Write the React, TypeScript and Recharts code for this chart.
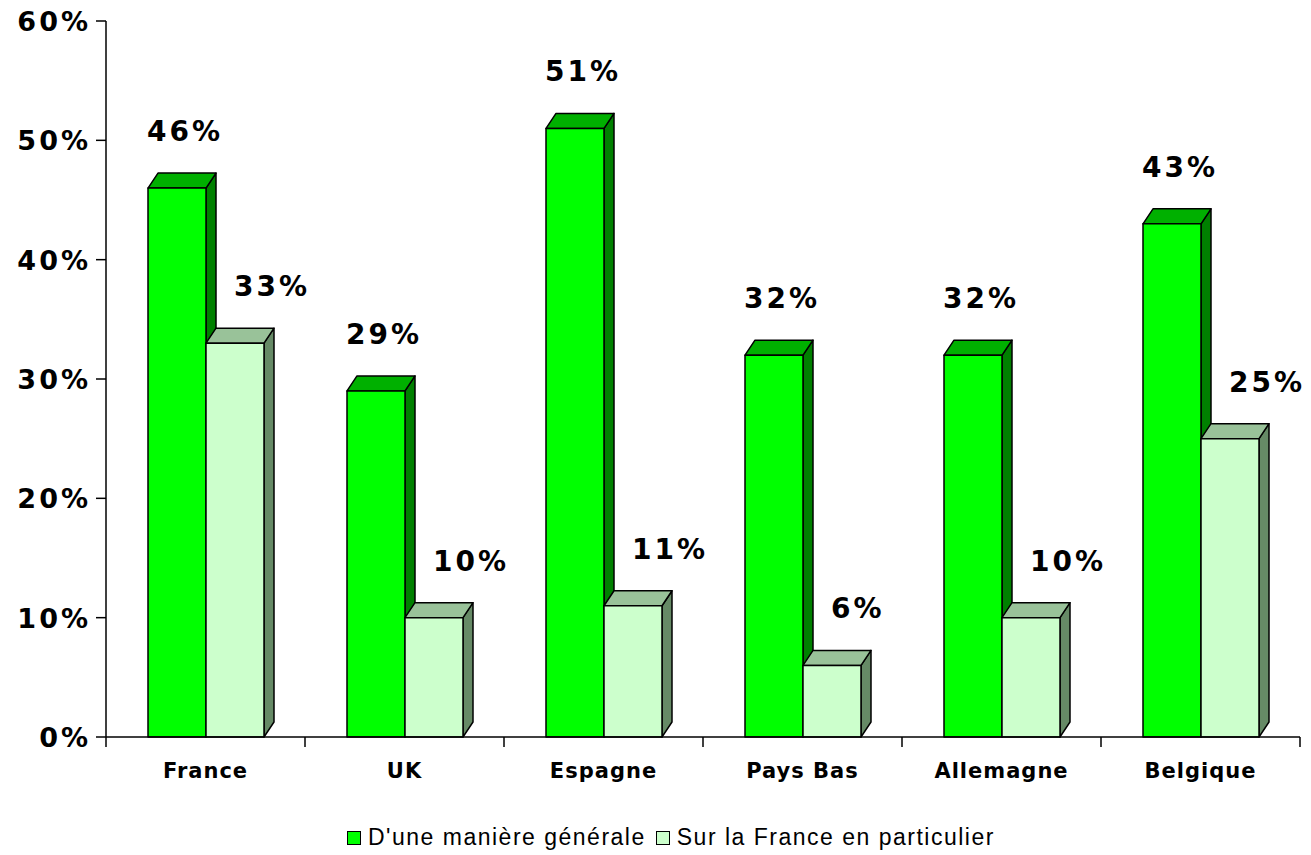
import { BarChart, Bar, XAxis, YAxis, LabelList } from "recharts";

const countries = ["France", "UK", "Espagne", "Pays Bas", "Allemagne", "Belgique"];
const generalValues = [46, 29, 51, 32, 32, 43];
const franceValues = [33, 10, 11, 6, 10, 25];
const yTicks = [0, 10, 20, 30, 40, 50, 60];
const seriesNames = ["D'une manière générale", "Sur la France en particulier"];

const data = countries.map((name, i) => ({
  name,
  general: generalValues[i],
  france: franceValues[i],
}));

const W = 1311;
const H = 855;
const LEFT = 106;
const RIGHT = 11;
const BAND = (W - LEFT - RIGHT) / countries.length;
const DX = 10;
const DY = 15;
const FONT = "'DejaVu Sans', Verdana, sans-serif";

const make3D = (front: string, top: string, side: string) => (props: any) => {
  const { x, y, width, height } = props;
  if (!height) return <g />;
  const b = y + height;
  return (
    <g stroke="#000" strokeWidth={1.5} strokeLinejoin="round">
      <polygon
        points={`${x + width},${y} ${x + width + DX},${y - DY} ${x + width + DX},${b - DY} ${x + width},${b}`}
        fill={side}
      />
      <polygon
        points={`${x},${y} ${x + DX},${y - DY} ${x + width + DX},${y - DY} ${x + width},${y}`}
        fill={top}
      />
      <rect x={x} y={y} width={width} height={height} fill={front} />
    </g>
  );
};

const makeLabel = (dxStart: number) => (props: any) => {
  const { x, y, value } = props;
  return (
    <text
      x={x + dxStart}
      y={y - 47}
      fontFamily={FONT}
      fontWeight="bold"
      fontSize={28}
      letterSpacing={3}
      fill="#000"
    >
      {value}%
    </text>
  );
};

const YTick = (props: any) => {
  const { x, y, payload } = props;
  return (
    <text
      x={x - 3}
      y={y + 10}
      textAnchor="end"
      fontFamily={FONT}
      fontWeight="bold"
      fontSize={27}
      letterSpacing={3}
      fill="#000"
    >
      {payload.value}%
    </text>
  );
};

const XTick = (props: any) => {
  const { x, y, payload, index } = props;
  const axisY = y - 8;
  return (
    <g>
      <line x1={x - BAND / 2} x2={x - BAND / 2} y1={axisY} y2={axisY + 10} stroke="#000" strokeWidth={1.5} />
      {index === countries.length - 1 && (
        <line x1={x + BAND / 2} x2={x + BAND / 2} y1={axisY} y2={axisY + 10} stroke="#000" strokeWidth={1.5} />
      )}
      <text
        x={x}
        y={778}
        textAnchor="middle"
        fontFamily={FONT}
        fontWeight="bold"
        fontSize={21}
        letterSpacing={1}
        fill="#000"
      >
        {payload.value}
      </text>
    </g>
  );
};

const legendColors = ["#00FF00", "#CCFFCC"];

export default function App() {
  return (
    <div style={{ position: "absolute", left: 0, top: 0, width: W, height: H, background: "#fff" }}>
      <BarChart
        width={W}
        height={H}
        data={data}
        margin={{ top: 21, right: RIGHT, left: 0, bottom: 88 }}
        barCategoryGap={42}
        barGap={0}
      >
        <XAxis
          dataKey="name"
          height={30}
          axisLine={{ stroke: "#000", strokeWidth: 1.5 }}
          tickLine={false}
          tick={<XTick />}
          interval={0}
        />
        <YAxis
          width={LEFT}
          domain={[0, 60]}
          ticks={yTicks}
          axisLine={{ stroke: "#000", strokeWidth: 1.5 }}
          tickLine={{ stroke: "#000", strokeWidth: 1.5 }}
          tickSize={10}
          tick={<YTick />}
        />
        <Bar
          dataKey="general"
          name={seriesNames[0]}
          isAnimationActive={false}
          shape={make3D("#00FF00", "#00B000", "#008000")}
        >
          <LabelList dataKey="general" content={makeLabel(-1)} />
        </Bar>
        <Bar
          dataKey="france"
          name={seriesNames[1]}
          isAnimationActive={false}
          shape={make3D("#CCFFCC", "#99C299", "#668A66")}
        >
          <LabelList dataKey="france" content={makeLabel(28)} />
        </Bar>
      </BarChart>
      <div
        style={{
          position: "absolute",
          left: 347,
          top: 824,
          display: "flex",
          alignItems: "center",
          fontFamily: "'Liberation Sans', Arial, sans-serif",
          fontSize: 23,
          letterSpacing: 1.5,
          whiteSpace: "nowrap",
        }}
      >
        {seriesNames.map((n, i) => (
          <div key={n} style={{ display: "flex", alignItems: "center", marginRight: 10 }}>
            <span
              style={{
                display: "inline-block",
                width: 12,
                height: 12,
                border: "1.5px solid #000",
                background: legendColors[i],
                marginRight: 7,
              }}
            />
            <span>{n}</span>
          </div>
        ))}
      </div>
    </div>
  );
}
